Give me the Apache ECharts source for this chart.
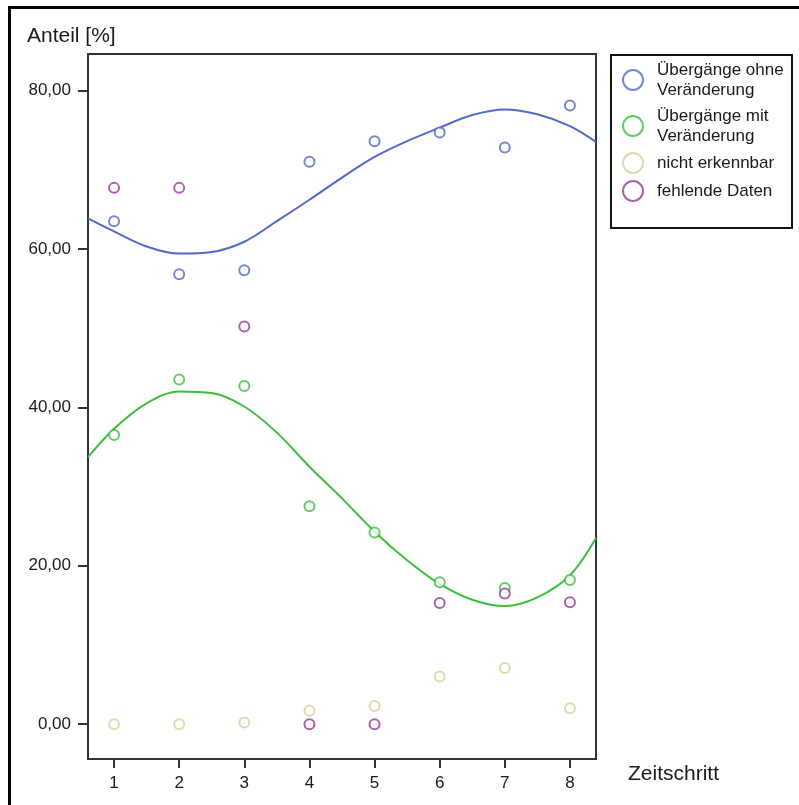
<!DOCTYPE html>
<html>
<head>
<meta charset="utf-8">
<script src="https://cdn.jsdelivr.net/npm/echarts@6/dist/echarts.min.js"></script>
<style>
  html, body { margin: 0; padding: 0; background: #fff; }
  #chart { width: 799px; height: 805px; }
</style>
</head>
<body>
<div id="chart"></div>
<script>
// Zeitschritte (x) und Anteile in %
const steps = [1, 2, 3, 4, 5, 6, 7, 8]
const ohneVals = [63.5, 56.8, 57.3, 71.0, 73.6, 74.7, 72.8, 78.1]
const mitVals = [36.5, 43.5, 42.7, 27.5, 24.2, 17.9, 17.2, 18.2]
const nichtVals = [0, 0, 0.2, 1.7, 2.3, 6.0, 7.1, 2.0]
const fehlendVals = [67.7, 67.7, 50.2, 0, 0, 15.3, 16.5, 15.4]

// Kubische Anpassungslinien
const fitX = [0.6, 1, 1.5, 2, 2.5, 3, 3.5, 4, 4.5, 5, 5.5, 6, 6.5, 7, 7.5, 8, 8.4]
const ohneFit = [63.85, 62.2, 60.3, 59.4, 59.6, 60.9, 63.5, 66.2, 69.0, 71.6, 73.6, 75.3, 76.9, 77.6, 77.0, 75.5, 73.5]
const mitFit = [33.7, 37.3, 40.5, 42.0, 41.8, 40.1, 36.8, 32.5, 28.5, 24.3, 20.7, 17.7, 15.7, 14.9, 16.0, 18.8, 23.5]

const yTicks = [0, 20, 40, 60, 80]

const names = ['Übergänge ohne Veränderung', 'Übergänge mit Veränderung', 'nicht erkennbar', 'fehlende Daten']
const colors = ['#5468c8', '#3dbf3d', '#d6d09c', '#963a96']
const font = 'Liberation Sans, Arial, sans-serif'

const pairs = (xs, ys) => xs.map((x, i) => [x, ys[i]])

const scatter = (name, vals, color) => ({
  name: name,
  type: 'scatter',
  data: pairs(steps, vals),
  symbol: 'emptyCircle',
  symbolSize: 10,
  itemStyle: { color: color, borderColor: color, borderWidth: 2 },
  z: 3
})

const fitLine = (vals, color) => ({
  type: 'line',
  data: pairs(fitX, vals),
  smooth: 0.35,
  showSymbol: false,
  silent: true,
  lineStyle: { color: color, width: 2 },
  z: 2
})

const chart = echarts.init(document.getElementById('chart'), null, { renderer: 'canvas' })

const option = {
  animation: false,
  backgroundColor: '#fff',
  textStyle: { fontFamily: font },
  grid: {
    left: 88,
    top: 54,
    right: 203,
    bottom: 46,
    show: true,
    borderColor: '#333',
    borderWidth: 2
  },
  xAxis: {
    type: 'value',
    min: 0.6,
    max: 8.4,
    splitLine: { show: false },
    axisLine: { show: true, onZero: false, lineStyle: { color: '#333', width: 2 } },
    axisTick: { show: true, length: 9, customValues: steps, lineStyle: { color: '#333', width: 2 } },
    axisLabel: {
      customValues: steps,
      margin: 16,
      fontSize: 17,
      color: '#1a1a1a',
      fontFamily: font,
      formatter: (v) => String(Math.round(v))
    }
  },
  yAxis: {
    type: 'value',
    min: -4.4,
    max: 84.6,
    splitLine: { show: false },
    axisLine: { show: true, onZero: false, lineStyle: { color: '#333', width: 2 } },
    axisTick: { show: true, length: 10, customValues: yTicks, lineStyle: { color: '#333', width: 2 } },
    axisLabel: {
      customValues: yTicks,
      margin: 17,
      fontSize: 17,
      color: '#1a1a1a',
      fontFamily: font,
      formatter: (v) => v.toFixed(2).replace('.', ',')
    }
  },
  legend: {
    orient: 'vertical',
    left: 622,
    top: 60,
    padding: 0,
    itemGap: 6,
    itemWidth: 20,
    itemHeight: 20,
    data: names.map((n) => ({ name: n, icon: 'emptyCircle', itemStyle: { borderWidth: 2 } })),
    formatter: (n) => n.replace(' Veränderung', '\nVeränderung'),
    textStyle: { fontSize: 17, lineHeight: 20, color: '#1a1a1a', fontFamily: font, padding: [0, 0, 0, 9] }
  },
  graphic: [
    {
      type: 'rect',
      shape: { x: 9.5, y: 7.5, width: 900, height: 900 },
      style: { fill: null, stroke: '#000', lineWidth: 3 },
      silent: true
    },
    {
      type: 'rect',
      shape: { x: 611, y: 55, width: 181, height: 173 },
      style: { fill: null, stroke: '#111', lineWidth: 2 },
      silent: true
    },
    {
      type: 'text',
      left: 27,
      top: 26,
      style: { text: 'Anteil [%]', fontSize: 21, fill: '#1a1a1a', fontFamily: font }
    },
    {
      type: 'text',
      left: 628,
      top: 764,
      style: { text: 'Zeitschritt', fontSize: 21, fill: '#1a1a1a', fontFamily: font }
    }
  ],
  series: [
    fitLine(ohneFit, colors[0]),
    fitLine(mitFit, colors[1]),
    scatter(names[0], ohneVals, colors[0]),
    scatter(names[1], mitVals, colors[1]),
    scatter(names[2], nichtVals, colors[2]),
    scatter(names[3], fehlendVals, colors[3])
  ]
}

chart.setOption(option)
</script>
</body>
</html>
